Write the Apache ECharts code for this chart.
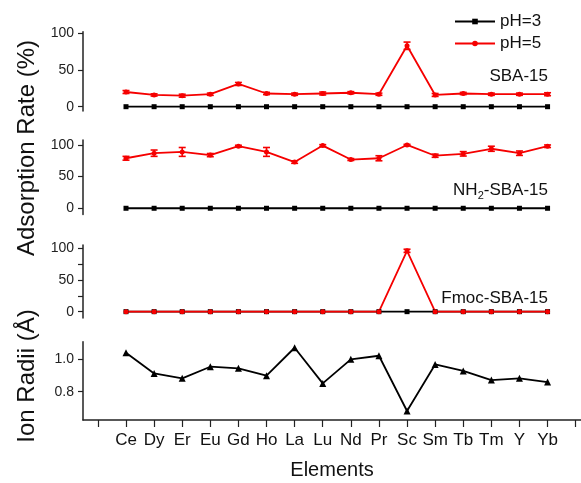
<!DOCTYPE html>
<html><head><meta charset="utf-8">
<script src="https://cdn.jsdelivr.net/npm/echarts@6/dist/echarts.min.js"></script>
<style>html,body{margin:0;padding:0;background:#fff}#c{width:581px;height:483px}</style>
</head><body><div id="c"></div>
<script>
var cats = ['Ce','Dy','Er','Eu','Gd','Ho','La','Lu','Nd','Pr','Sc','Sm','Tb','Tm','Y','Yb'];
var sbaPH3 = [0,0,0,0,0,0,0,0,0,0,0,0,0,0,0,0];
var sbaPH5 = [20,16,15,17,31,18,17,18,19,17,83,16,18,17,17,17];
var sbaErr = [2,1.5,2,1.5,2,1.5,1.5,2,1.5,1.5,5,2,1.5,1.5,1.5,2];
var nh2PH3 = [0,0,0,0,0,0,0,0,0,0,0,0,0,0,0,0];
var nh2PH5 = [79,87,89,84,98,89,73,99,77,79,100,83,86,94,87,98];
var nh2Err = [3,5,7,2.5,1.5,7,2,1.5,1.5,4,1,2.5,3.5,4,3.5,2];
var fmocPH3 = [0,0,0,0,0,0,0,0,0,0,0,0,0,0,0,0];
var fmocPH5 = [0,0,0,0,0,0,0,0,0,0,96,0,0,0,0,0];
var fmocErr = [0,0,0,0,0,0,0,0,0,0,2.5,0,0,0,0,0];
var radii = [1.039,0.912,0.882,0.953,0.943,0.898,1.069,0.851,0.998,1.02,0.682,0.967,0.927,0.871,0.882,0.859];
var rateTicks = [0,50,100];
var fmocTicks = [0,25,50,75,100];
var radiiTicks = [0.8,1.0];

var FONT = 'Liberation Sans, Arial, sans-serif';
var RED = '#f50000', BLK = '#000';
function pts(arr){ return arr.map(function(v,i){ return [i+1, v]; }); }
function errPts(vals, errs){ return vals.map(function(v,i){ return [i+1, v, errs[i]]; }); }

var grids = [
  {left:83, width:498, top:31.8, height:79.3},
  {left:83, width:498, top:139.9, height:74.7},
  {left:83, width:498, top:245.1, height:72.9},
  {left:83, width:498, top:341.7, height:78.3}
];
var xTickVals = []; for (var k=0;k<=cats.length+1;k++) xTickVals.push(k);
var xLabelVals = cats.map(function(c,i){ return i+1; });

function xAx(idx, show){
  return {
    type:'value', gridIndex:idx, min:-0.53, max:17.19, show:show,
    splitLine:{show:false},
    axisLine:{show:show, lineStyle:{color:'#222', width:1.5}},
    axisTick:{show:show, customValues:xTickVals, length:7, lineStyle:{color:'#222', width:1.2}},
    axisLabel:{show:show, customValues:xLabelVals, margin:12, fontSize:17, color:'#111', fontFamily:FONT,
      formatter:function(v){ return cats[Math.round(v)-1] || ''; }},
    name: show ? 'Elements' : '', nameLocation:'middle', nameGap:40,
    nameTextStyle:{fontSize:20, color:'#111', fontFamily:FONT}
  };
}
function yAx(idx, min, max, ticks, labels, fmt){
  return {
    type:'value', gridIndex:idx, min:min, max:max,
    splitLine:{show:false},
    axisLine:{show:true, onZero:false, lineStyle:{color:'#222', width:1.5}},
    axisTick:{show:true, customValues:ticks, length:5, lineStyle:{color:'#222', width:1.2}},
    axisLabel:{customValues:labels, margin:9, fontSize:14, color:'#222', fontFamily:FONT,
      formatter: fmt || function(v){ return String(v); }}
  };
}

function lineS(name, idx, data, color, symbol, size){
  return {
    type:'line', name:name, xAxisIndex:idx, yAxisIndex:idx, data:data,
    symbol:symbol, symbolSize:size, showSymbol:true,
    lineStyle:{color:color, width:1.8}, itemStyle:{color:color},
    animation:false, z:3
  };
}
function errS(idx, data){
  return {
    type:'custom', xAxisIndex:idx, yAxisIndex:idx, data:data, z:4, animation:false, silent:true,
    renderItem:function(params, api){
      var x = api.value(0), v = api.value(1), e = api.value(2);
      if (!e) return null;
      var top = api.coord([x, v+e]), bot = api.coord([x, v-e]);
      var w = 3.5, st = {stroke:RED, lineWidth:1.6};
      return {type:'group', children:[
        {type:'line', shape:{x1:top[0], y1:top[1], x2:bot[0], y2:bot[1]}, style:st},
        {type:'line', shape:{x1:top[0]-w, y1:top[1], x2:top[0]+w, y2:top[1]}, style:st},
        {type:'line', shape:{x1:bot[0]-w, y1:bot[1], x2:bot[0]+w, y2:bot[1]}, style:st}
      ]};
    }
  };
}

var chart = echarts.init(document.getElementById('c'), null, {renderer:'canvas'});
chart.setOption({
  animation:false,
  backgroundColor:'#fff',
  grid:grids,
  xAxis:[xAx(0,false), xAx(1,false), xAx(2,false), xAx(3,true)],
  yAxis:[
    yAx(0, -6, 102, rateTicks, rateTicks),
    yAx(1, -10, 108, rateTicks, rateTicks),
    yAx(2, -10, 105, fmocTicks, rateTicks),
    yAx(3, 0.627, 1.106, radiiTicks, radiiTicks, function(v){ return v.toFixed(1); })
  ],
  legend:{
    data:['pH=3','pH=5'], orient:'vertical', left:449, top:8,
    itemWidth:40, itemHeight:7, itemGap:5,
    textStyle:{fontSize:17, color:'#111', fontFamily:FONT}
  },
  series:[
    lineS('pH=3', 0, pts(sbaPH3), BLK, 'rect', 5),
    lineS('pH=5', 0, pts(sbaPH5), RED, 'circle', 5),
    errS(0, errPts(sbaPH5, sbaErr)),
    lineS('pH=3', 1, pts(nh2PH3), BLK, 'rect', 5),
    lineS('pH=5', 1, pts(nh2PH5), RED, 'circle', 5),
    errS(1, errPts(nh2PH5, nh2Err)),
    lineS('pH=3', 2, pts(fmocPH3), BLK, 'rect', 5),
    lineS('pH=5', 2, pts(fmocPH5), RED, 'circle', 5),
    errS(2, errPts(fmocPH5, fmocErr)),
    lineS('radii', 3, pts(radii), BLK, 'triangle', 7)
  ],
  graphic:[
    {type:'text', right:33, top:68, style:{text:'SBA-15', fontSize:17, fill:'#111', fontFamily:FONT}},
    {type:'text', right:33, top:182, style:{text:'{n|NH}{s|2}{n|-SBA-15}', fontSize:17, fill:'#111', fontFamily:FONT, rich:{
      n:{fontSize:17, fill:'#111', fontFamily:FONT},
      s:{fontSize:11, fill:'#111', fontFamily:FONT, padding:[10,0,0,0]}}}},
    {type:'text', right:33, top:290, style:{text:'Fmoc-SBA-15', fontSize:17, fill:'#111', fontFamily:FONT}},
    {type:'text', x:27, y:148, rotation:Math.PI/2, style:{text:'Adsorption Rate (%)', fontSize:24, fill:'#111', fontFamily:FONT, align:'center', verticalAlign:'middle'}},
    {type:'text', x:27, y:376, rotation:Math.PI/2, style:{text:'Ion Radii (\u00C5)', fontSize:24, fill:'#111', fontFamily:FONT, align:'center', verticalAlign:'middle'}}
  ]
});
</script></body></html>
